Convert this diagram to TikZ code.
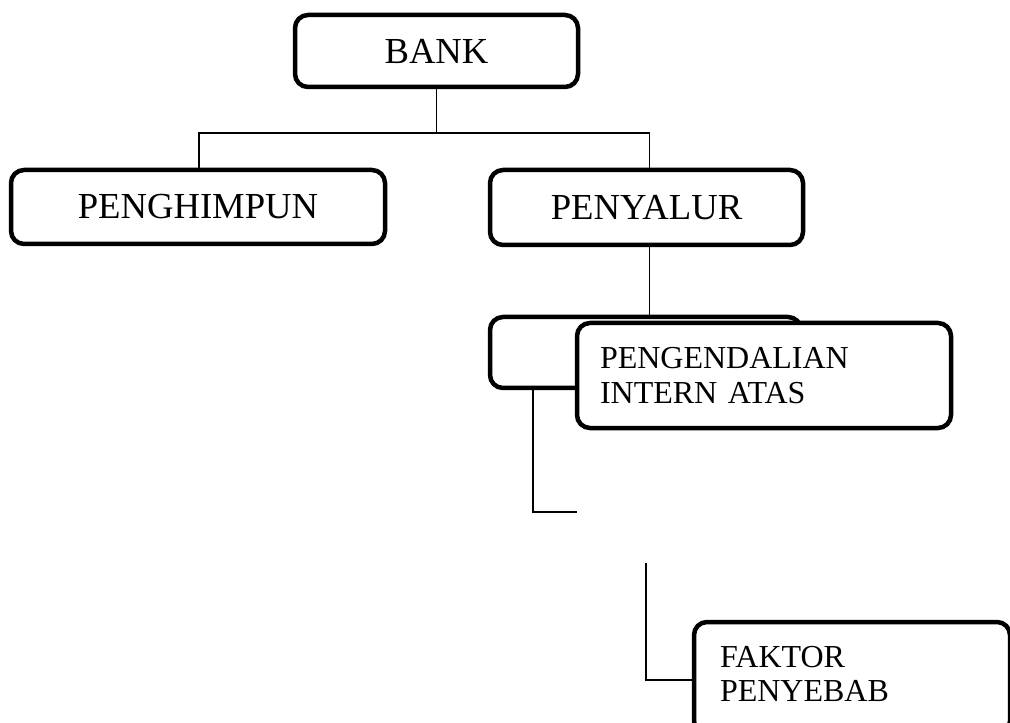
\documentclass[tikz,border=0pt]{standalone}
\usepackage{fontspec}
\setmainfont{Liberation Serif}
\newlength{\pxu}
\setlength{\pxu}{0.75pt}

\begin{document}
\begin{tikzpicture}[
        x=0.75pt, y=-0.75pt,
        box/.style={draw, line width=4.5\pxu, rounded corners=13\pxu, fill=white, inner sep=0pt},
        bigbox/.style={box, font=\fontsize{27.5}{31}\selectfont},
        textbox/.style={box, align=left, inner xsep=#1\pxu, font=\fontsize{24}{26}\selectfont},
        link/.style={line width=1.3\pxu}
    ]

    \useasboundingbox (0,0) rectangle (1010,723);
    \clip (0,0) rectangle (1010,723);

    % Top level
    \node[bigbox, minimum width=283\pxu, minimum height=72\pxu] (bank) at (436.5,51) {BANK};
    \node[bigbox, minimum width=374\pxu, minimum height=74\pxu] (penghimpun) at (198,207) {PENGHIMPUN};
    \node[bigbox, minimum width=313\pxu, minimum height=75\pxu] (penyalur) at (646.5,207.5) {PENYALUR};

    \coordinate (bus) at (436,133);
    \draw[link] (bank.south) -- (bank.south |- bus);
    \draw[link] ([xshift=1\pxu]penghimpun.north) |- (bus) -| ([xshift=3\pxu]penyalur.north);

    % Lower level
    \node[box, minimum width=311\pxu, minimum height=71\pxu] (penyaluran) at (645.5,352.5) {};
    \node[textbox=23, text width=328\pxu, minimum height=105\pxu] (pengendalian) at (764,375.5) {PENGENDALIAN\\INTERN ATAS};

    \coordinate (drop) at ([xshift=3\pxu]penyalur.south);
    \draw[link] (drop) -- (drop |- penyaluran.north);

    \coordinate (endA) at (577,512);
    \draw[link] ([xshift=-112.5\pxu]penyaluran.south) |- (endA);

    % Bottom
    \node[textbox=26, text width=264\pxu, text depth=32pt, minimum height=112\pxu] (faktor) at (852,678) {FAKTOR\\PENYEBAB};

    \coordinate (topB) at (646,563);
    \draw[link] (topB) |- ([yshift=-2\pxu]faktor.west);

\end{tikzpicture}
\end{document}
